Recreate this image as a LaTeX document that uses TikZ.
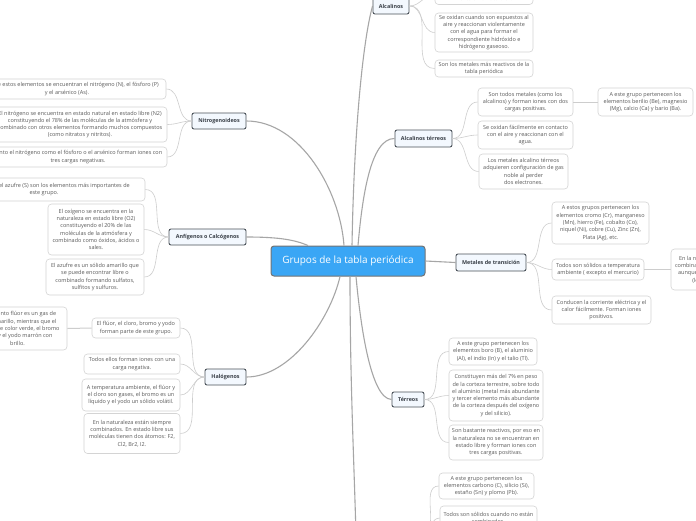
\documentclass[tikz,border=0pt]{standalone}
\usepackage{fontspec}
\setmainfont{Open Sans}
\definecolor{rootfill}{HTML}{3AA6F5}
\definecolor{rootline}{HTML}{737373}
\definecolor{topicfill}{HTML}{F3F8FE}
\definecolor{topicline}{HTML}{4A5159}
\definecolor{topictext}{HTML}{3A4048}
\definecolor{leafline}{HTML}{D4D4D4}
\definecolor{leaftext}{HTML}{5A5A5A}
\definecolor{mainlinkcol}{HTML}{A6A6A6}
\definecolor{leaflinkcol}{HTML}{CDCDCD}
\begin{document}
\begin{tikzpicture}[x=1pt, y=-1pt,
        root/.style={draw=rootline, fill=rootfill, line width=1pt, rounded corners=3pt, text=white, font=\fontsize{10}{11}\selectfont, minimum width=154pt, minimum height=30pt},
        topic/.style={draw=topicline, fill=topicfill, line width=0.9pt, rounded corners=2pt, text=topictext, font=\fontsize{5.4}{6.5}\selectfont\bfseries, inner sep=1pt},
        leaf/.style={draw=leafline, fill=white, line width=0.6pt, rounded corners=3.5pt, align=center, text=leaftext, font=\fontsize{5.5}{7.3}\selectfont, inner sep=1pt},
        wh/.style 2 args={minimum width=#1pt, minimum height=#2pt},
        mainlink/.style={draw=mainlinkcol, line width=1.1pt},
        leaflink/.style={draw=leaflinkcol, line width=0.6pt}
    ]
        \useasboundingbox (0,0) rectangle (696,520);
        \clip (0,0) rectangle (696,520);
        \fill[white] (0,0) rectangle (696,520);

        \node[root] (root) at (348,261) {Grupos de la tabla periódica};

        \node[topic, wh={36}{16}] (alc)   at (391,6)   {Alcalinos};
        \node[topic, wh={54}{16}] (nitro) at (219,121) {Nitrogenoideos};
        \node[topic, wh={57}{17}] (alct)  at (423.5,138.5) {Alcalinos térreos};
        \node[topic, wh={77}{16}] (anf)   at (207.5,237) {Anfígenos o Calcógenos};
        \node[topic, wh={70}{17}] (met)   at (491,262.5) {Metales de transición};
        \node[topic, wh={41}{16}] (halo)  at (225.5,377) {Halógenos};
        \node[topic, wh={32}{15}] (terr)  at (408,399.5) {Térreos};
        \coordinate (carbW) at (356,535);
        \coordinate (carbE) at (422,532);

        \node[leaf, wh={98}{20}] (alc0) at (484,-5.5) {No se encuentran libre\\mente en la naturaleza};
        \node[leaf, wh={98}{39}] (alc1) at (484,32.5) {Se oxidan cuando son expuestos al\\aire y reaccionan violentamente\\con el agua para formar el\\correspondiente hidróxido e\\hidrógeno gaseoso.};
        \node[leaf, wh={98}{17}] (alc2) at (484,68.5) {Son los metales más reactivos de la\\tabla periódica};

        \node[leaf, wh={198}{20}] (nitro1) at (67,89) {Dentro de estos elementos se encuentran el nitrógeno (N), el fósforo (P)\\y el arsénico (As).};
        \node[leaf, wh={174}{35}] (nitro2) at (80,124.5) {El nitrógeno se encuentra en estado natural en estado libre (N2)\\constituyendo el 78\% de las moléculas de la atmósfera y\\combinado con otros elementos formando muchos compuestos\\(como nitratos y nitritos).};
        \node[leaf, wh={178}{20}] (nitro3) at (78,157) {Tanto el nitrógeno como el fósforo o el arsénico forman iones con\\tres cargas negativas.};

        \node[leaf, wh={202}{23}] (anf1) at (44,189.5) {El oxígeno (O) y el azufre (S) son los elementos más importantes de\\este grupo.};
        \node[leaf, wh={96}{51}] (anf2) at (96,229.5) {El oxígeno se encuentra en la\\naturaleza en estado libre (O2)\\constituyendo el 20\% de las\\moléculas de la atmósfera y\\combinado como óxidos, ácidos o\\sales.};
        \node[leaf, wh={98}{36}] (anf3) at (95,277) {El azufre es un sólido amarillo que\\se puede encontrar libre o\\combinado formando sulfatos,\\sulfitos y sulfuros.};

        \node[leaf, wh={95}{28}] (alct1)  at (525.5,102) {Son todos metales (como los\\alcalinos) y forman iones con dos\\cargas positivas.};
        \node[leaf, wh={95}{28}] (alct1a) at (645.5,102) {A este grupo pertenecen los\\elementos berilio (Be), magnesio\\(Mg), calcio (Ca) y bario (Ba).};
        \node[leaf, wh={95}{28}] (alct2)  at (525.5,135) {Se oxidan fácilmente en contacto\\con el aire y reaccionan con el\\agua.};
        \node[leaf, wh={89}{35}] (alct3)  at (523.5,171.5) {Los metales alcalino térreos\\adquieren configuración de gas\\noble al perder\\dos electrones.};

        \node[leaf, wh={97}{42}] (met1)  at (600.5,223) {A estos grupos pertenecen los\\elementos cromo (Cr), manganeso\\(Mn), hierro (Fe), cobalto (Co),\\niquel (Ni), cobre (Cu), Zinc (Zn),\\Plata (Ag), etc.};
        \node[leaf, wh={92}{21}] (met2)  at (598,269.5) {Todos son sólidos a temperatura\\ambiente ( excepto el mercurio)};
        \node[leaf, wh={95}{41}] (met2a) at (718.5,269.5) {En la naturaleza se encuentran\\combinados con otros elementos,\\aunque algunos se hallan libres\\(los metales nobles).};
        \node[leaf, wh={99}{28}] (met3)  at (601.5,310) {Conducen la corriente eléctrica y el\\calor fácilmente. Forman iones\\positivos.};

        \node[leaf, wh={88}{20}] (halo1)  at (136,328) {El flúor, el cloro, bromo y yodo\\forman parte de este grupo.};
        \node[leaf, wh={99}{43}] (halo1a) at (17.5,328.5) {El elemento flúor es un gas de\\color amarillo, mientras que el\\cloro es de color verde, el bromo\\rojizo y el yodo marrón con\\brillo.};
        \node[leaf, wh={96}{20}] (halo2)  at (132,364) {Todos ellos forman iones con una\\carga negativa.};
        \node[leaf, wh={98}{32}] (halo3)  at (131,395) {A temperatura ambiente, el flúor y\\el cloro son gases, el bromo es un\\líquido y el yodo un sólido volátil.};
        \node[leaf, wh={96}{40}] (halo4)  at (132,433.5) {En la naturaleza están siempre\\combinados. En estado libre sus\\moléculas tienen dos átomos: F2,\\Cl2, Br2, I2.};

        \node[leaf, wh={88}{27}] (terr1) at (493,351.5) {A este grupo pertenecen los\\elementos boro (B), el aluminio\\(Al), el indio (In) y el talio (Tl).};
        \node[leaf, wh={94}{51}] (terr2) at (496,395.5) {Constituyen más del 7\% en peso\\de la corteza terrestre, sobre todo\\el aluminio (metal más abundante\\y tercer elemento más abundante\\de la corteza después del oxígeno\\y del silicio).};
        \node[leaf, wh={94}{35}] (terr3) at (496,442.5) {Son bastante reactivos, por eso en\\la naturaleza no se encuentran en\\estado libre y forman iones con\\tres cargas positivas.};

        \node[leaf, wh={95}{26}] (carb1) at (486.5,486) {A este grupo pertenecen los\\elementos carbono (C), silicio (Si),\\estaño (Sn) y plomo (Pb).};
        \node[leaf, wh={97}{24}] (carb2) at (488.5,518) {Todos son sólidos cuando no están\\combinados.};

        \draw[mainlink] ([xshift=4pt]root.north) .. controls (354,130) and (363,40) .. (alc.west);
        \draw[mainlink] ([xshift=-4pt]root.north) .. controls (340,190) and (300,121) .. (nitro.east);
        \draw[mainlink] ([xshift=10pt]root.north) .. controls (362,200) and (370,138) .. (alct.west);
        \draw[mainlink] ([xshift=-40pt]root.north) .. controls (295,240) and (280,237) .. (anf.east);
        \draw[mainlink] (root.east) -- (met.west);
        \draw[mainlink] ([xshift=-8pt]root.south) .. controls (330,320) and (290,377) .. (halo.east);
        \draw[mainlink] ([xshift=8pt]root.south) .. controls (360,320) and (370,399) .. (terr.west);
        \draw[mainlink] ([xshift=2pt]root.south) .. controls (350,380) and (354,460) .. (carbW);

        \foreach \leafname in {alc0, alc1, alc2}
            \draw[leaflink] (alc.east) to[out=0, in=180] (\leafname.west);
        \foreach \leafname in {nitro1, nitro2, nitro3}
            \draw[leaflink] (nitro.west) to[out=180, in=0] (\leafname.east);
        \foreach \leafname in {anf1, anf2, anf3}
            \draw[leaflink] (anf.west) to[out=180, in=0] (\leafname.east);
        \foreach \leafname in {alct1, alct2, alct3}
            \draw[leaflink] (alct.east) to[out=0, in=180] (\leafname.west);
        \foreach \leafname in {met1, met2, met3}
            \draw[leaflink] (met.east) to[out=0, in=180] (\leafname.west);
        \foreach \leafname in {halo1, halo2, halo3, halo4}
            \draw[leaflink] (halo.west) to[out=180, in=0] (\leafname.east);
        \foreach \leafname in {terr1, terr2, terr3}
            \draw[leaflink] (terr.east) to[out=0, in=180] (\leafname.west);
        \foreach \leafname in {carb1, carb2}
            \draw[leaflink] (carbE) to[out=0, in=180] (\leafname.west);

        \draw[leaflink, line width=1pt] (alct1.east) -- (alct1a.west);
        \draw[leaflink, line width=1pt] (met2.east) -- (met2a.west);
        \draw[leaflink, line width=1pt] (halo1.west) -- (halo1a.east);
    \end{tikzpicture}
\end{document}
